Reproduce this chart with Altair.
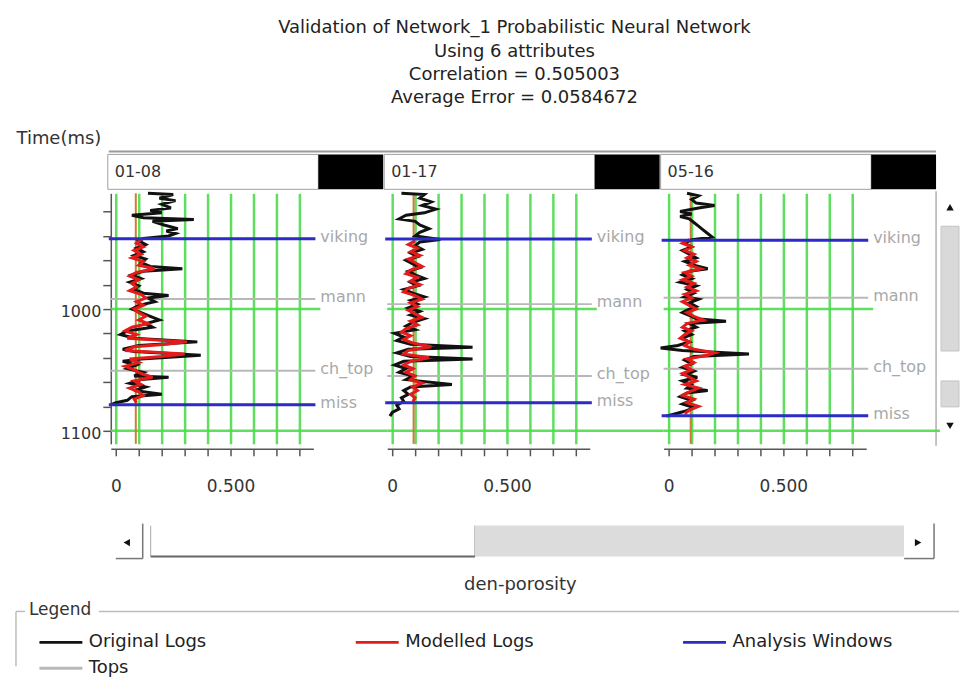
import altair as alt
import pandas as pd

FONT = "DejaVu Sans"

# ---------------- data ----------------
TITLE_LINES = [
    "Validation of Network_1 Probabilistic Neural Network",
    "Using 6 attributes",
    "Correlation = 0.505003",
    "Average Error = 0.0584672",
]
WELLS = ["01-08", "01-17", "05-16"]
TOP_NAMES = ["viking", "mann", "ch_top", "miss"]
TOPS_0108 = [942.4, 991.8, 1050.8, 1078.7]
TOPS_0117 = [942.6, 996.0, 1055.0, 1077.0]
TOPS_0516 = [943.5, 990.7, 1049.0, 1087.7]
MODEL_BASE = [0.087, 0.093, 0.096]

SERIES = ["Original Logs", "Modelled Logs", "Analysis Windows", "Tops"]
SERIES_COLORS = ["#111111", "#e31b1b", "#2c2cc8", "#b8b8b8"]

X_TICKS = [0, 0.1, 0.2, 0.3, 0.4, 0.5, 0.6, 0.7, 0.8]
Y_TICKS = [920, 940, 960, 980, 1000, 1020, 1040, 1060, 1080, 1100]
Y_GRID_LINES = [1000, 1100]
X_DOMAIN = [-0.022, 0.861]
Y_DOMAIN = [905, 1110.7]

# well 01-08
ORIG_T_0108 = [905, 906, 909, 911, 914, 917, 919, 921, 923, 925, 926.5, 928, 931, 934, 936, 938, 940,
               942, 944, 947, 950, 953, 956, 959, 962, 965, 967, 969, 972, 975, 978, 981, 984, 987,
               989, 991, 994, 997, 1000, 1003, 1006, 1009, 1012, 1015, 1018, 1021, 1024, 1027, 1030,
               1033, 1035, 1038, 1041, 1043, 1046, 1049, 1052, 1055, 1056, 1058, 1061, 1064, 1067,
               1070, 1072, 1075, 1077, 1078.5]
ORIG_V_0108 = [0.14, 0.25, 0.19, 0.26, 0.20, 0.24, 0.15, 0.20, 0.07, 0.12, 0.34, 0.16, 0.21, 0.27,
               0.22, 0.26, 0.23, 0.12, 0.10, 0.13, 0.09, 0.12, 0.08, 0.13, 0.11, 0.15, 0.29, 0.12,
               0.07, 0.11, 0.06, 0.10, 0.08, 0.12, 0.23, 0.14, 0.17, 0.10, 0.07, 0.11, 0.15, 0.19,
               0.13, 0.16, 0.05, 0.02, 0.08, 0.355, 0.10, 0.03, 0.08, 0.37, 0.11, 0.03, 0.09, 0.05,
               0.12, 0.08, 0.23, 0.11, 0.06, 0.13, 0.08, 0.20, 0.07, 0.05, 0.00, -0.02]
MOD_T_0108 = [943, 946, 949, 952, 955, 958, 961, 964, 967, 970, 973, 976, 979, 982, 985, 988, 991,
              994, 997, 1000, 1003, 1006, 1009, 1012, 1015, 1018, 1021, 1024, 1027, 1029, 1031, 1034,
              1037, 1039, 1041, 1044, 1047, 1050, 1053, 1056, 1059, 1062, 1065, 1068, 1071, 1074, 1077]
MOD_V_0108 = [0.11, 0.09, 0.12, 0.08, 0.11, 0.07, 0.12, 0.10, 0.17, 0.09, 0.06, 0.10, 0.07, 0.09,
              0.06, 0.11, 0.13, 0.09, 0.12, 0.08, 0.10, 0.13, 0.10, 0.14, 0.07, 0.04, 0.09, 0.05,
              0.31, 0.22, 0.08, 0.04, 0.30, 0.20, 0.06, 0.10, 0.04, 0.08, 0.11, 0.16, 0.08, 0.11,
              0.06, 0.10, 0.12, 0.08, 0.09]

# well 01-17
ORIG_T_0117 = [905, 906, 909, 912, 915, 918, 921, 923, 926, 928, 931, 934, 937, 940, 943, 945, 948,
               951, 954, 957, 960, 963, 966, 969, 972, 975, 978, 981, 984, 987, 990, 993, 996, 999,
               1002, 1005, 1008, 1011, 1014, 1017, 1020, 1023, 1026, 1029, 1031.5, 1033, 1036, 1039,
               1041, 1043, 1046, 1049, 1052, 1055, 1058, 1062, 1064, 1067, 1070, 1073, 1076, 1079,
               1082, 1085, 1088]
ORIG_V_0117 = [0.04, 0.14, 0.12, 0.17, 0.13, 0.19, 0.14, 0.06, 0.03, 0.10, 0.12, 0.16, 0.12, 0.10,
               0.21, 0.12, 0.10, 0.13, 0.08, 0.11, 0.06, 0.09, 0.12, 0.07, 0.10, 0.14, 0.08, 0.11,
               0.05, 0.09, 0.14, 0.08, 0.11, 0.07, 0.12, 0.08, 0.14, 0.09, 0.06, 0.10, 0.01, 0.05,
               0.02, 0.08, 0.35, 0.07, 0.02, 0.08, 0.35, 0.05, 0.01, 0.06, 0.03, 0.09, 0.06, 0.26,
               0.08, 0.05, 0.07, 0.04, 0.05, 0.02, 0.03, 0.00, -0.01]
MOD_T_0117 = [944, 947, 950, 953, 956, 959, 962, 965, 968, 971, 974, 977, 980, 983, 986, 989, 992,
              995, 998, 1001, 1004, 1007, 1010, 1013, 1016, 1019, 1022, 1025, 1028, 1031, 1034, 1037,
              1040, 1043, 1046, 1049, 1052, 1055, 1058, 1061, 1064, 1067, 1070, 1073, 1076]
MOD_V_0117 = [0.10, 0.07, 0.11, 0.08, 0.12, 0.07, 0.10, 0.13, 0.08, 0.06, 0.11, 0.08, 0.12, 0.07,
              0.05, 0.10, 0.13, 0.08, 0.11, 0.07, 0.10, 0.13, 0.08, 0.11, 0.06, 0.04, 0.08, 0.05,
              0.09, 0.17, 0.07, 0.05, 0.16, 0.08, 0.05, 0.09, 0.06, 0.10, 0.08, 0.13, 0.09, 0.11,
              0.08, 0.10, 0.09]

# well 05-16
ORIG_T_0516 = [905, 907, 910, 913, 915, 917, 920, 922, 924, 926, 929, 932, 935, 938, 941, 943, 946,
               949, 952, 955, 958, 961, 964, 967, 969, 972, 975, 978, 981, 984, 987, 990, 992, 995,
               998, 1001, 1003, 1006, 1008, 1010, 1012, 1015, 1018, 1021, 1024, 1027, 1030, 1032,
               1034, 1037, 1039, 1042, 1045, 1048, 1051, 1054, 1056, 1059, 1062, 1065, 1067, 1069,
               1072, 1075, 1078, 1081, 1084, 1086, 1088]
ORIG_V_0516 = [0.08, 0.13, 0.10, 0.12, 0.20, 0.13, 0.05, 0.10, 0.05, 0.09, 0.11, 0.13, 0.15, 0.17,
               0.19, 0.10, 0.07, 0.10, 0.06, 0.09, 0.12, 0.07, 0.11, 0.17, 0.09, 0.06, 0.10, 0.05,
               0.12, 0.08, 0.11, 0.07, 0.13, 0.09, 0.12, 0.08, 0.06, 0.10, 0.12, 0.25, 0.09, 0.12,
               0.07, 0.10, 0.06, 0.09, 0.04, -0.035, 0.06, 0.35, 0.11, 0.07, 0.10, 0.06, 0.11, 0.07,
               0.125, 0.06, 0.10, 0.08, 0.17, 0.08, 0.05, 0.10, 0.06, 0.11, 0.07, 0.03, -0.01]
MOD_T_0516 = [943, 946, 949, 952, 955, 958, 961, 964, 967, 970, 973, 976, 979, 982, 985, 988, 991,
              994, 997, 1000, 1003, 1006, 1009, 1012, 1015, 1018, 1021, 1024, 1027, 1030, 1033, 1036,
              1038, 1041, 1044, 1047, 1050, 1053, 1056, 1059, 1062, 1065, 1068, 1071, 1074, 1077,
              1080, 1083, 1086]
MOD_V_0516 = [0.09, 0.06, 0.10, 0.07, 0.11, 0.08, 0.12, 0.09, 0.14, 0.07, 0.10, 0.06, 0.11, 0.08,
              0.12, 0.07, 0.10, 0.06, 0.09, 0.12, 0.08, 0.11, 0.15, 0.08, 0.06, 0.10, 0.07, 0.05,
              0.09, 0.07, 0.11, 0.20, 0.17, 0.08, 0.11, 0.07, 0.10, 0.06, 0.09, 0.12, 0.07, 0.13,
              0.09, 0.06, 0.11, 0.08, 0.13, 0.09, 0.07]

TOPS = [TOPS_0108, TOPS_0117, TOPS_0516]
ORIG = [(ORIG_T_0108, ORIG_V_0108), (ORIG_T_0117, ORIG_V_0117), (ORIG_T_0516, ORIG_V_0516)]
MODS = [(MOD_T_0108, MOD_V_0108), (MOD_T_0117, MOD_V_0117), (MOD_T_0516, MOD_V_0516)]

# ---------------- styling ----------------
GREEN = "#4cdc4c"
ORANGE = "#cd7a3a"
PANEL_W = 203
PANEL_H = 251
ONE = pd.DataFrame({"k": [0]})


def prect(x, x2, y, y2, fill, stroke=None, sw=1.0):
    kw = dict(fill=fill)
    if stroke is not None:
        kw.update(stroke=stroke, strokeWidth=sw)
    return alt.Chart(ONE).mark_rect(**kw).encode(
        x=alt.value(x), x2=alt.value(x2), y=alt.value(y), y2=alt.value(y2))


def pline(x, x2, y, y2, color, sw):
    return alt.Chart(ONE).mark_rule(color=color, strokeWidth=sw).encode(
        x=alt.value(x), x2=alt.value(x2), y=alt.value(y), y2=alt.value(y2))


def ptext(x, y, text, size, color, align="left"):
    return alt.Chart(ONE).mark_text(
        text=text, align=align, baseline="middle", fontSize=size, color=color, font=FONT
    ).encode(x=alt.value(x), y=alt.value(y))


def parrow(x, y, shape):
    return alt.Chart(ONE).mark_point(
        shape=shape, filled=True, color="#111", opacity=1, size=55
    ).encode(x=alt.value(x), y=alt.value(y))


def panel(i):
    well = WELLS[i]
    tops = TOPS[i]
    xscale = alt.Scale(domain=X_DOMAIN, nice=False, zero=False)
    yscale = alt.Scale(domain=Y_DOMAIN, nice=False, zero=False, reverse=True)

    xaxis_kw = dict(
        values=X_TICKS, grid=True, gridColor=GREEN, gridWidth=2.5, gridOpacity=0.9,
        labelExpr="datum.value == 0 ? '0' : (abs(datum.value - 0.5) < 0.001 ? '0.500' : '')",
        labelFontSize=17, labelColor="#333", labelPadding=23, labelFont=FONT,
        tickSize=7, tickColor="#555", tickWidth=1.5, domainColor="#555", domainWidth=1.5,
        offset=5, title=None,
    )
    if i == 1:
        xaxis_kw.update(title="den-porosity", titleX=133, titleY=136, titleAnchor="middle",
                        titleBaseline="middle", titleFontSize=18, titleFontWeight="normal",
                        titleColor="#333", titleFont=FONT)
    X = alt.X("v:Q", scale=xscale, axis=alt.Axis(**xaxis_kw))

    if i == 0:
        yaxis = alt.Axis(
            values=Y_TICKS, format="d",
            labelExpr="datum.value % 100 == 0 ? datum.label : ''",
            grid=False, tickSize=8, tickColor="#555", tickWidth=1.5,
            domainColor="#555", domainWidth=1.5,
            labelFontSize=16, labelColor="#333", labelPadding=2, labelFont=FONT,
            labelOffset=3,
            title="Time(ms)", titleAngle=0, titleAlign="left", titleBaseline="middle",
            titleX=-95, titleY=-55, titleFontSize=18, titleFontWeight="normal",
            titleColor="#333", titleFont=FONT,
        )
        Y = alt.Y("t:Q", scale=yscale, axis=yaxis)
    else:
        Y = alt.Y("t:Q", scale=yscale, axis=None)

    if i == 0:
        legend = alt.Legend(
            orient="none", legendX=-73, legendY=437, title=None, columns=3,
            direction="horizontal", values=SERIES,
            symbolType="stroke", symbolSize=1849, symbolStrokeWidth=3, clipHeight=26,
            rowPadding=0, columnPadding=148, labelOffset=5, labelFontSize=18,
            labelFont=FONT, labelColor="#222", padding=0, gridAlign="each", labelLimit=400,
        )
    else:
        legend = None
    C = alt.Color("series:N", scale=alt.Scale(domain=SERIES, range=SERIES_COLORS),
                  sort=SERIES, legend=legend)

    gl = pd.DataFrame({"t": Y_GRID_LINES})
    grid1000 = alt.Chart(gl[gl.t == 1000]).mark_rule(color=GREEN, strokeWidth=2.5, opacity=0.9).encode(
        y=Y, x=alt.value(0), x2=alt.value(210))
    grid1100 = alt.Chart(gl[gl.t == 1100]).mark_rule(color=GREEN, strokeWidth=2.5, opacity=0.9).encode(
        y=Y, x=alt.value(0), x2=alt.value(277))

    tops_df = pd.DataFrame({"t": tops, "name": TOP_NAMES, "series": "Tops"})
    tops_rules = alt.Chart(tops_df).mark_rule(strokeWidth=2).encode(
        y=Y, x=alt.value(0), x2=alt.value(205), color=C)
    tops_labels = alt.Chart(tops_df).mark_text(
        align="left", baseline="middle", dy=-2, fontSize=16, color="#a8a8a8", font=FONT
    ).encode(y=Y, x=alt.value(210), text="name:N")

    base = alt.Chart(pd.DataFrame({"v": [MODEL_BASE[i]]})).mark_rule(
        color=ORANGE, strokeWidth=2).encode(x=X)

    ot, ov = ORIG[i]
    orig_df = pd.DataFrame({"t": ot, "v": ov, "series": "Original Logs"})
    orig = alt.Chart(orig_df).mark_line(strokeWidth=3, strokeJoin="miter").encode(
        x=X, y=Y, order="t:Q", color=C)

    mt, mv = MODS[i]
    mod_df = pd.DataFrame({"t": mt, "v": mv, "series": "Modelled Logs"})
    mod = alt.Chart(mod_df).mark_line(strokeWidth=3).encode(
        x=X, y=Y, order="t:Q", color=C)

    win_df = pd.DataFrame({"t": [tops[0], tops[3]], "series": "Analysis Windows"})
    win = alt.Chart(win_df).mark_rule(strokeWidth=3).encode(
        y=Y, x=alt.value(-2), x2=alt.value(205), color=C)

    header = [
        prect(-3, 208, -39, -4, "white", "#a0a0a0", 1),
        prect(208, 273, -39, -4, "#000000"),
        ptext(4, -21, well, 16, "#333"),
    ]

    # legend-bearing layers first, then drawing order: grids/tops below logs, windows on top
    layers = [grid1000, grid1100, tops_rules, tops_labels, base, orig, mod, win] + header

    if i == 0:
        deco = [
            pline(-2, 827, -42, -42, "#9a9a9a", 2),
            pline(827, 827, -2, 253, "#b0b0b0", 1.5),
            # vertical scrollbar
            prect(832, 850, 33, 158, "#d9d9d9", "#c4c4c4", 1),
            prect(832, 850, 188, 214, "#d9d9d9", "#c4c4c4", 1),
            parrow(841, 14, "triangle-up"),
            parrow(841, 233, "triangle-down"),
            # horizontal scrollbar
            prect(5, 32, 331, 366, "white"),
            pline(32, 32, 331, 366, "#777", 1.5),
            pline(5, 32, 366, 366, "#777", 1.5),
            parrow(16, 350, "triangle-left"),
            prect(40, 365, 333, 364, "white"),
            pline(40, 40, 333, 364, "#aaa", 1),
            pline(40, 365, 364, 364, "#666", 2),
            pline(365, 365, 333, 364, "#888", 1),
            prect(365, 795, 333, 364, "#dcdcdc"),
            prect(795, 825, 331, 366, "white"),
            pline(825, 825, 331, 366, "#777", 1.5),
            pline(795, 825, 366, 366, "#777", 1.5),
            parrow(809, 350, "triangle-right"),
            # legend frame
            pline(-95, -86, 419, 419, "#bdbdbd", 1.5),
            pline(-12, 850, 419, 419, "#bdbdbd", 1.5),
            pline(-95, -95, 419, 474, "#bdbdbd", 1.5),
            ptext(-82, 418, "Legend", 17, "#333"),
        ]
        layers = layers + deco

    return alt.layer(*layers).properties(width=PANEL_W, height=PANEL_H)


chart = alt.hconcat(
    panel(0), panel(1), panel(2),
    spacing=74, bounds="flush",
    title=alt.TitleParams(
        TITLE_LINES, fontSize=18, fontWeight="normal", font=FONT, color="#222",
        lineHeight=23.5, anchor="middle", dx=27, offset=22,
    ),
).resolve_scale(color="independent").resolve_legend(color="independent").properties(
    padding={"left": 7, "top": 10, "right": 0, "bottom": 0}
).configure(font=FONT).configure_view(stroke=None)

chart.save("out.html", embed_options={"renderer": "svg", "actions": False})
